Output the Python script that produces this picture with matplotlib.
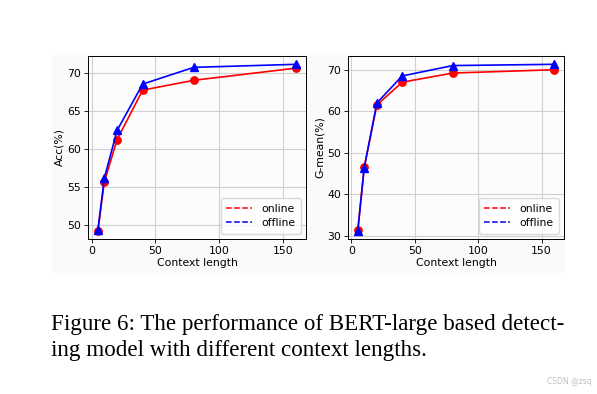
import matplotlib.pyplot as plt
from matplotlib.lines import Line2D
from matplotlib.patches import Rectangle

ctx = [5, 10, 20, 40, 80, 160]
acc_online = [49.3, 55.7, 61.3, 67.8, 69.1, 70.7]
acc_offline = [49.4, 56.2, 62.5, 68.6, 70.8, 71.2]
gm_online = [31.5, 46.5, 61.5, 67.0, 69.2, 70.0]
gm_offline = [31.3, 46.3, 62.0, 68.5, 71.0, 71.3]
acc_ticks = [50, 55, 60, 65, 70]
gm_ticks = [30, 40, 50, 60, 70]

plt.rcParams['font.size'] = 7.8

W, H = 597, 394
fig = plt.figure(figsize=(W / 100, H / 100), dpi=100)

# faint background of the embedded plot image
fig.patches.append(Rectangle((52 / W, 1 - 273 / H), (565 - 52) / W, (273 - 55) / H,
                             transform=fig.transFigure, facecolor='#fafafa',
                             edgecolor='none', zorder=-5))


def panel(rect, on, off, ylabel, yticks):
    ax = fig.add_axes(rect)
    ax.set_facecolor('#fcfcfc')
    ax.plot(ctx, on, color='red', marker='o', markersize=5.3, linewidth=1.2)
    ax.plot(ctx, off, color='blue', marker='^', markersize=5.3, linewidth=1.2)
    ax.grid(True, color='#d0d0d0', linewidth=0.8)
    ax.set_axisbelow(True)
    ax.set_xlabel('Context length', labelpad=1.5)
    ax.set_ylabel(ylabel, labelpad=2)
    ax.set_xticks([0, 50, 100, 150])
    ax.set_yticks(yticks)
    ax.tick_params(length=3, width=0.6, pad=2)
    for s in ax.spines.values():
        s.set_linewidth(0.7)
    handles = [Line2D([], [], color='red', linestyle='--', linewidth=1.1),
               Line2D([], [], color='blue', linestyle='--', linewidth=1.1)]
    ax.legend(handles, ['online', 'offline'], loc='lower right',
              fontsize=7.8, handlelength=2.4, borderpad=0.5, labelspacing=0.4,
              framealpha=0.8, edgecolor='#d0d0d0')
    return ax


panel([88 / W, 1 - 239 / H, 218 / W, 183 / H], acc_online, acc_offline, 'Acc(%)', acc_ticks)
panel([348 / W, 1 - 239 / H, 216 / W, 183 / H], gm_online, gm_offline, 'G-mean(%)', gm_ticks)

fig.text(51 / W, 1 - 330 / H, 'Figure 6: The performance of BERT-large based detect-',
         family='Liberation Serif', fontsize=16.6, va='baseline')
fig.text(51 / W, 1 - 356 / H, 'ing model with different context lengths.',
         family='Liberation Serif', fontsize=16.6, va='baseline')
fig.text(592 / W, 1 - 384 / H, 'CSDN @zsq', color='#c0c0c0', fontsize=5.5,
         ha='right', va='baseline')

fig.savefig('out.png', dpi=100)
